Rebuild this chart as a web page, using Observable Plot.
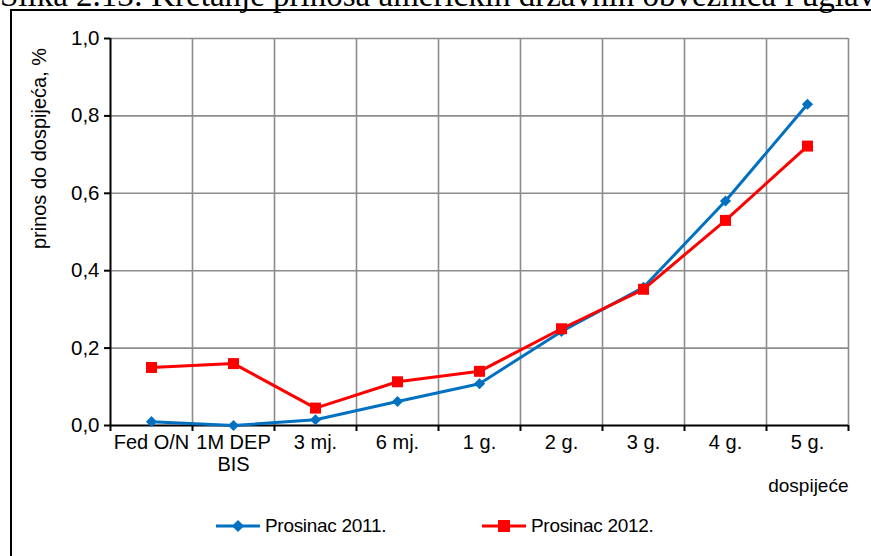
<!DOCTYPE html>
<html>
<head>
<meta charset="utf-8">
<script src="https://cdn.jsdelivr.net/npm/d3@7"></script>
<script src="https://cdn.jsdelivr.net/npm/@observablehq/plot@0.6"></script>
<style>
  html, body { margin: 0; padding: 0; background: #fff; }
  body { width: 871px; height: 556px; overflow: hidden; position: relative; font-family: "Liberation Sans", Arial, sans-serif; }
  #title { position: absolute; left: 0; top: -21px; white-space: nowrap; font-family: "Liberation Serif", "Times New Roman", serif; font-size: 33px; line-height: 1; color: #000; }
  #frame { position: absolute; left: 10px; top: 9px; width: 900px; height: 600px; border: 2px solid #000; box-sizing: border-box; }
  #chart { position: absolute; left: 0; top: 0; }
  #legend { position: absolute; left: 0; top: 514px; width: 871px; height: 24px; }
  .item { position: absolute; top: 0; display: flex; align-items: center; font-size: 19px; letter-spacing: -0.3px; color: #000; }
  .item svg { margin-right: 5px; }
</style>
</head>
<body>
<div id="title">Slika 2.13: Kretanje prinosa američkih državnih obveznica i uglavnih</div>
<div id="frame"></div>
<div id="chart"></div>
<div id="legend"></div>
<script>
const categories = ["Fed O/N", "1M DEP\nBIS", "3 mj.", "6 mj.", "1 g.", "2 g.", "3 g.", "4 g.", "5 g."];
const prosinac2011 = [0.010, 0.000, 0.015, 0.062, 0.108, 0.243, 0.357, 0.580, 0.830];
const prosinac2012 = [0.150, 0.160, 0.045, 0.113, 0.140, 0.250, 0.352, 0.530, 0.722];
const seriesNames = ["Prosinac 2011.", "Prosinac 2012."];
const seriesColors = ["#0070C0", "#FF0000"];
const yTicks = [0, 0.2, 0.4, 0.6, 0.8, 1.0];

const rows = [];
categories.forEach((c, i) => {
  rows.push({pos: i + 0.5, value: prosinac2011[i], series: seriesNames[0]});
  rows.push({pos: i + 0.5, value: prosinac2012[i], series: seriesNames[1]});
});
const d2011 = rows.filter(d => d.series === seriesNames[0]);
const d2012 = rows.filter(d => d.series === seriesNames[1]);
const bounds = d3.range(0, categories.length + 1);
const centers = categories.map((c, i) => i + 0.5);
const fmt = v => v.toFixed(1).replace(".", ",");

const chart = Plot.plot({
  width: 871,
  height: 505,
  marginLeft: 110,
  marginRight: 23,
  marginTop: 38,
  marginBottom: 80,
  style: {fontFamily: "'Liberation Sans', Arial, sans-serif", fontSize: "20px", color: "#000", background: "transparent", overflow: "visible"},
  x: {type: "linear", domain: [0, categories.length], axis: null, label: null},
  y: {domain: [0, 1], axis: null, label: null},
  marks: [
    Plot.ruleY(yTicks.filter(v => v > 0), {stroke: "#8c8c8c", strokeWidth: 1.6}),
    Plot.ruleX(bounds.filter(v => v > 0), {stroke: "#8c8c8c", strokeWidth: 1.6}),
    Plot.ruleY([0], {stroke: "#000", strokeWidth: 2}),
    Plot.ruleX([0], {stroke: "#000", strokeWidth: 2}),
    Plot.axisY({ticks: yTicks, tickFormat: fmt, tickSize: 6, tickPadding: 5, stroke: "#000", strokeWidth: 2, fontSize: 20.5, label: null}),
    Plot.axisX({ticks: bounds, tickFormat: () => "", tickSize: 6, stroke: "#000", strokeWidth: 2, label: null}),
    Plot.axisX({ticks: centers, tickFormat: v => categories[Math.round(v - 0.5)], tickSize: 0, tickPadding: 8, fontSize: 20, letterSpacing: "0.6px", lineHeight: 1.1, label: null}),
    Plot.line(d2011, {x: "pos", y: "value", stroke: seriesColors[0], strokeWidth: 3}),
    Plot.dot(d2011, {x: "pos", y: "value", symbol: "diamond2", r: 5, fill: seriesColors[0], stroke: "none"}),
    Plot.line(d2012, {x: "pos", y: "value", stroke: seriesColors[1], strokeWidth: 3}),
    Plot.dot(d2012, {x: "pos", y: "value", symbol: "square", r: 6.2, fill: seriesColors[1], stroke: "none"}),
    Plot.text(["prinos do dospijeća, %"], {frameAnchor: "top-left", dx: -79, dy: 110, rotate: -90, textAnchor: "middle", fontSize: 20, letterSpacing: "-0.4px"}),
    Plot.text(["dospijeće"], {frameAnchor: "bottom-right", dx: 0, dy: 66, textAnchor: "end", fontSize: 19, letterSpacing: "0.8px"})
  ]
});
document.getElementById("chart").appendChild(chart);

// legend
const legend = document.getElementById("legend");
const lefts = [216, 482];
seriesNames.forEach((name, i) => {
  const item = document.createElement("div");
  item.className = "item";
  item.style.left = lefts[i] + "px";
  const sym = i === 0
    ? `<polygon points="22,6 28,12 22,18 16,12" fill="${seriesColors[i]}"/>`
    : `<rect x="16" y="6" width="12" height="12" fill="${seriesColors[i]}"/>`;
  item.innerHTML = `<svg width="44" height="24"><line x1="0" y1="12" x2="44" y2="12" stroke="${seriesColors[i]}" stroke-width="3"/>${sym}</svg><span>${name}</span>`;
  legend.appendChild(item);
});
</script>
</body>
</html>
